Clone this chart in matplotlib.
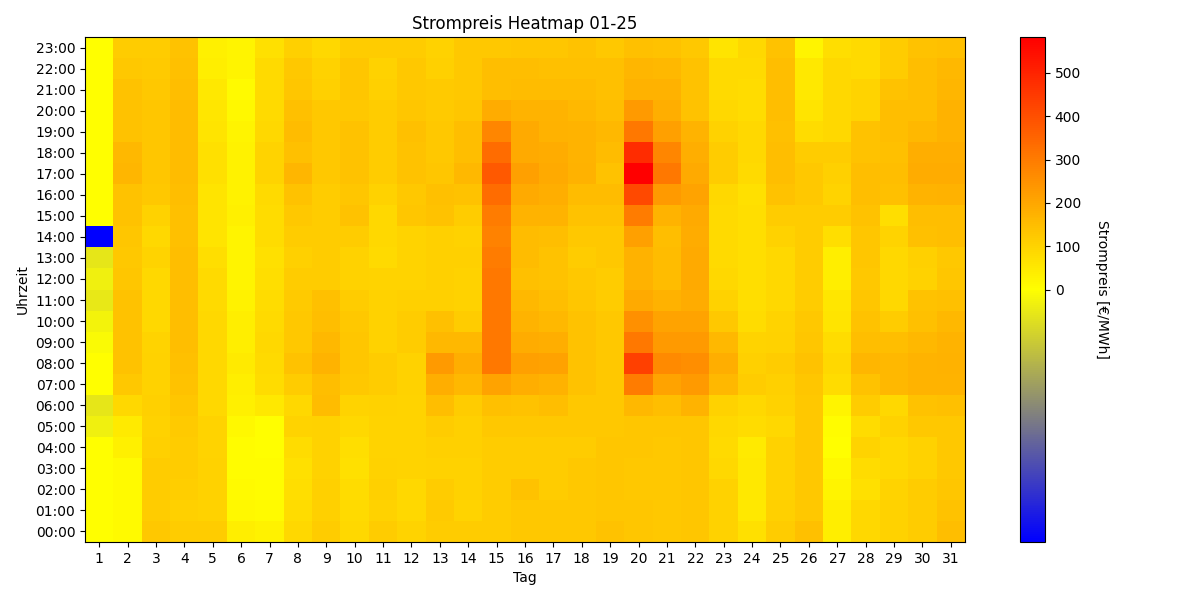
import numpy as np
import matplotlib
matplotlib.use("Agg")
import matplotlib.pyplot as plt
from matplotlib.colors import LinearSegmentedColormap, TwoSlopeNorm

days = list(range(1, 32))
hour_labels = [f"{h:02d}:00" for h in range(24)]

# Hourly prices (EUR/MWh) per day, 00:00 -> 23:00
prices = [
    [2, 2, 2, 2, 2, -0.3, -0.5, 1, 1, -0.1, -0.2, -0.45, -0.3, -0.5, -5, 2, 2, 2, 2, 2, 2, 2, 2, 2],
    [11, 11, 11, 11, 34, 46, 91, 126, 140, 140, 140, 137, 130, 126, 130, 137, 137, 165, 160, 140, 140, 137, 126, 114],
    [126, 114, 114, 114, 107, 103, 107, 103, 103, 98, 91, 91, 91, 98, 91, 103, 126, 130, 130, 130, 130, 126, 121, 114],
    [114, 107, 110, 114, 114, 121, 130, 137, 144, 149, 149, 149, 149, 149, 144, 144, 149, 153, 153, 153, 153, 149, 144, 137],
    [114, 103, 103, 103, 98, 98, 91, 91, 91, 91, 91, 85, 85, 75, 62, 62, 62, 69, 69, 62, 57, 53, 39, 34],
    [39, 16, 11, 5, 7, 16, 34, 39, 46, 39, 39, 30, 27, 23, 27, 34, 30, 30, 30, 23, 16, 11, 27, 23],
    [30, 11, 7, 7, 2, 1, 53, 80, 85, 91, 85, 80, 75, 69, 80, 80, 85, 98, 98, 91, 85, 85, 85, 69],
    [91, 80, 75, 69, 80, 98, 91, 114, 137, 126, 126, 119, 114, 107, 114, 126, 137, 165, 144, 153, 144, 130, 126, 107],
    [114, 107, 107, 103, 103, 103, 153, 149, 171, 160, 149, 144, 114, 114, 114, 114, 114, 126, 126, 126, 126, 107, 103, 91],
    [91, 85, 80, 69, 75, 91, 98, 126, 130, 130, 126, 114, 103, 103, 114, 137, 130, 137, 137, 137, 126, 130, 130, 114],
    [114, 103, 107, 103, 98, 98, 103, 114, 114, 103, 103, 103, 98, 85, 91, 91, 103, 114, 114, 114, 114, 107, 103, 114],
    [98, 91, 91, 98, 98, 98, 98, 103, 103, 114, 114, 107, 98, 98, 98, 130, 126, 137, 137, 144, 130, 126, 126, 114],
    [114, 121, 114, 103, 107, 114, 149, 183, 229, 160, 144, 107, 107, 107, 107, 137, 144, 130, 126, 126, 121, 121, 107, 103],
    [114, 98, 103, 103, 107, 107, 114, 160, 183, 160, 114, 103, 103, 107, 103, 114, 137, 160, 149, 149, 130, 126, 126, 126],
    [114, 114, 114, 114, 114, 126, 144, 206, 309, 309, 309, 309, 309, 297, 286, 297, 336, 377, 336, 274, 190, 149, 149, 126],
    [126, 126, 137, 114, 114, 126, 137, 183, 217, 190, 171, 160, 144, 153, 153, 171, 194, 217, 194, 194, 171, 153, 149, 130],
    [126, 126, 114, 114, 114, 126, 149, 176, 213, 183, 160, 149, 137, 137, 149, 171, 183, 194, 190, 176, 171, 153, 144, 130],
    [126, 126, 126, 126, 114, 126, 126, 137, 137, 137, 137, 130, 126, 114, 126, 137, 153, 176, 171, 171, 160, 153, 144, 137],
    [137, 130, 130, 130, 130, 126, 126, 126, 126, 126, 126, 114, 114, 126, 126, 137, 153, 137, 153, 160, 149, 144, 144, 126],
    [130, 130, 126, 126, 130, 130, 160, 297, 434, 309, 251, 194, 176, 176, 217, 297, 411, 583, 480, 309, 229, 176, 167, 144],
    [126, 126, 126, 126, 126, 130, 149, 206, 267, 229, 206, 176, 153, 153, 149, 171, 229, 309, 274, 217, 183, 176, 160, 137],
    [130, 130, 130, 130, 130, 130, 171, 229, 258, 229, 206, 190, 194, 194, 190, 194, 206, 194, 183, 171, 137, 137, 137, 126],
    [103, 103, 103, 91, 85, 91, 103, 160, 183, 160, 126, 103, 91, 85, 85, 85, 91, 114, 114, 103, 91, 85, 85, 62],
    [69, 53, 53, 53, 46, 80, 91, 114, 107, 98, 80, 75, 75, 75, 75, 75, 69, 85, 91, 91, 80, 80, 85, 91],
    [114, 107, 103, 103, 103, 91, 103, 107, 114, 103, 98, 91, 91, 91, 103, 114, 137, 149, 149, 144, 149, 149, 149, 137],
    [144, 126, 126, 126, 126, 126, 126, 130, 137, 130, 126, 114, 114, 114, 114, 114, 126, 126, 114, 80, 62, 53, 53, 23],
    [39, 39, 23, 16, 0, 7, 23, 80, 91, 80, 62, 57, 39, 39, 75, 114, 98, 107, 114, 91, 91, 91, 91, 75],
    [91, 91, 69, 80, 98, 80, 114, 137, 167, 149, 137, 130, 126, 130, 130, 137, 149, 149, 137, 137, 98, 98, 85, 85],
    [103, 103, 98, 91, 91, 103, 91, 160, 160, 149, 114, 91, 91, 91, 98, 75, 144, 149, 144, 149, 149, 137, 114, 114],
    [114, 114, 114, 103, 103, 126, 137, 171, 171, 160, 144, 137, 103, 107, 144, 149, 171, 190, 183, 160, 149, 149, 149, 137],
    [149, 137, 130, 126, 126, 126, 144, 171, 176, 171, 160, 144, 130, 126, 149, 149, 176, 190, 183, 176, 176, 167, 160, 144],
]

cbar_ticks = [0, 100, 200, 300, 400, 500]

data = np.array(prices, dtype=float).T  # shape (24 hours, 31 days)

cmap = LinearSegmentedColormap.from_list("strom", ["blue", "yellow", "red"])
norm = TwoSlopeNorm(vmin=data.min(), vcenter=0, vmax=data.max())

fig = plt.figure(figsize=(12, 6), dpi=100)
ax = fig.add_axes([85 / 1200, 58 / 600, 880 / 1200, 505 / 600])
cax = fig.add_axes([1020 / 1200, 58 / 600, 25 / 1200, 505 / 600])

im = ax.imshow(data, cmap=cmap, norm=norm, aspect="auto", origin="lower",
               interpolation="nearest")
ax.set_xticks(range(len(days)))
ax.set_xticklabels([str(d) for d in days])
ax.set_yticks(range(24))
ax.set_yticklabels(hour_labels)
ax.set_title("Strompreis Heatmap 01-25")
ax.set_xlabel("Tag")
ax.set_ylabel("Uhrzeit")

cb = fig.colorbar(im, cax=cax)
cb.set_ticks(cbar_ticks)
cb.set_label("Strompreis [€/MWh]", rotation=270, labelpad=20)

fig.savefig("out.png", dpi=100)
